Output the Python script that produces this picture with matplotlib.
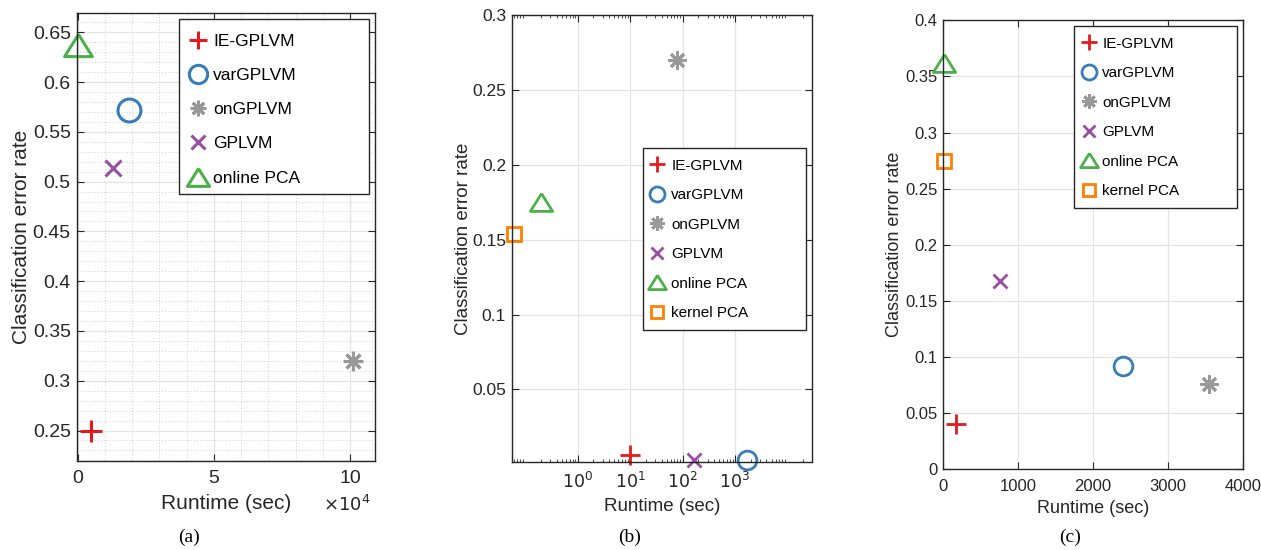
import numpy as np
import matplotlib.pyplot as plt
from matplotlib.patches import Rectangle
from matplotlib.ticker import FuncFormatter, MultipleLocator, FixedLocator, LogLocator, NullFormatter

plt.rcParams['font.family'] = ['Liberation Sans', 'DejaVu Sans']

# methods and their colours / markers
methods = ["IE-GPLVM", "varGPLVM", "onGPLVM", "GPLVM", "online PCA", "kernel PCA"]
colors = ["#e41a1c", "#377eb8", "#999999", "#984ea3", "#4daf4a", "#ff7f00"]
tri = [(0, 0.8), (-1, -0.8), (1, -0.8), (0, 0.8)]
markers = ["+", "o", (8, 2, 0), "x", tri, "s"]

# (a) runtime in seconds, error rate
rt_a = [4700, 18900, 101200, 13000, 0]
err_a = [0.250, 0.572, 0.320, 0.514, 0.637]

# (b)
rt_b = [10, 1725, 77, 168, 0.197, 0.061]
err_b = [0.0062, 0.0029, 0.2705, 0.0029, 0.1754, 0.154]

# (c)
rt_c = [170, 2400, 3555, 757, 5, 5]
err_c = [0.040, 0.092, 0.0757, 0.1673, 0.362, 0.275]

W, H = 1261, 550
fig = plt.figure(figsize=(W / 100, H / 100), dpi=100)
dark = "#262626"
gridc = "#e3e3e3"


def ax_px(l, r, t, b):
    return fig.add_axes([l / W, 1 - b / H, (r - l) / W, (b - t) / H])


def style(ax, fs, xpad, ypad):
    for s in ax.spines.values():
        s.set_color(dark)
        s.set_linewidth(1.0)
    ax.tick_params(which="both", direction="in", top=True, right=True,
                   colors=dark, labelsize=fs)
    ax.tick_params(axis="x", pad=xpad)
    ax.tick_params(axis="y", pad=ypad)
    ax.tick_params(which="major", length=5)
    ax.tick_params(which="minor", length=2.5)
    ax.set_axisbelow(True)


def legend_box(ax, box, hx, y0, fs, spacing, tpad):
    # box = left, top, right, bottom in pixels; MATLAB-like wide frame
    l, t, r, b = box
    ax.add_patch(Rectangle((l / W, 1 - b / H), (r - l) / W, (b - t) / H,
                           transform=fig.transFigure, fill=True, fc="white",
                           ec=dark, lw=1.0, zorder=4, clip_on=False))
    leg = ax.legend(loc="upper left", bbox_to_anchor=(hx / W, 1 - y0 / H),
                    bbox_transform=fig.transFigure, fontsize=fs, markerscale=0.8,
                    labelspacing=spacing, handlelength=1.4, handletextpad=tpad,
                    borderpad=0, borderaxespad=0, frameon=False)
    leg.set_zorder(6)
    for txt in leg.get_texts():
        txt.set_color("black")


gfmt = FuncFormatter(lambda v, p: "%g" % round(v, 4))

# sizes: plus, circle, asterisk, x, triangle, square
ms_a = [16, 16.5, 14, 12, 20, 11]
ms_bc = [14, 13.5, 13, 10.5, 16, 10.6]

# ---------- (a)
ax = ax_px(77, 375, 13.3, 461.4)
style(ax, 14, 6.5, 4.5)
for i in range(len(rt_a)):
    ax.plot(rt_a[i], err_a[i], linestyle="none", marker=markers[i], ms=ms_a[i],
            mew=2.2, mfc="none", mec=colors[i], label=methods[i], clip_on=False)
ax.set_xlim(-300, 109200)
ax.set_ylim(0.219, 0.669)
ax.xaxis.set_major_locator(FixedLocator([0, 50000, 100000]))
ax.xaxis.set_major_formatter(FuncFormatter(lambda v, p: "%g" % (v / 1e4)))
ax.xaxis.set_minor_locator(MultipleLocator(10000))
ax.yaxis.set_major_locator(MultipleLocator(0.05))
ax.yaxis.set_minor_locator(MultipleLocator(0.01))
ax.yaxis.set_major_formatter(gfmt)
ax.grid(True, which="major", color=gridc, lw=0.9)
ax.grid(True, which="minor", color="#d0d0d0", lw=0.7, linestyle=(0, (1, 2)))
ax.tick_params(which="minor", length=0)
ax.set_xlabel("Runtime (sec)", fontsize=15, color=dark, labelpad=5)
ax.set_ylabel("Classification error rate", fontsize=15, color=dark, labelpad=1.5)
fig.text(347 / W, 1 - 505 / H, r"$\times10^{4}$", fontsize=13, color=dark,
         ha="center", va="center")
legend_box(ax, (179.3, 19.3, 369.3, 194), 185.8, 33.5, 12.5, 1.1, 0.16)

# ---------- (b)
ax = ax_px(512, 811.7, 15.4, 462.3)
style(ax, 12.5, 6.5, 4.3)
for i in range(len(rt_b)):
    ax.plot(rt_b[i], err_b[i], linestyle="none", marker=markers[i], ms=ms_bc[i],
            mew=2.0, mfc="none", mec=colors[i], label=methods[i], clip_on=False)
ax.set_xscale("log")
ax.set_xlim(0.0557, 29200)
ax.set_ylim(0.0013, 0.3)
ax.xaxis.set_major_locator(FixedLocator([1, 10, 100, 1000]))
ax.xaxis.set_major_formatter(FuncFormatter(lambda v, p: r"$10^{%d}$" % round(np.log10(v))))
ax.xaxis.set_minor_locator(LogLocator(base=10, subs=np.arange(2, 10), numticks=20))
ax.xaxis.set_minor_formatter(NullFormatter())
ax.yaxis.set_major_locator(FixedLocator([0.05, 0.1, 0.15, 0.2, 0.25, 0.3]))
ax.yaxis.set_major_formatter(gfmt)
ax.grid(True, which="major", color=gridc, lw=0.9)
ax.set_xlabel("Runtime (sec)", fontsize=13.5, color=dark, labelpad=5)
ax.set_ylabel("Classification error rate", fontsize=13.5, color=dark, labelpad=0)
legend_box(ax, (642.7, 148, 806, 330), 646.5, 158.5, 11, 1.02, 0.22)

# ---------- (c)
ax = ax_px(943.3, 1242.7, 20.4, 469)
style(ax, 12, 7.5, 4.3)
for i in range(len(rt_c)):
    ax.plot(rt_c[i], err_c[i], linestyle="none", marker=markers[i], ms=ms_bc[i],
            mew=2.0, mfc="none", mec=colors[i], label=methods[i], clip_on=False)
ax.set_xlim(0, 4000)
ax.set_ylim(0, 0.4)
ax.xaxis.set_major_locator(MultipleLocator(1000))
ax.yaxis.set_major_locator(MultipleLocator(0.05))
ax.yaxis.set_major_formatter(gfmt)
ax.grid(True, which="major", color=gridc, lw=0.9)
ax.set_xlabel("Runtime (sec)", fontsize=13, color=dark, labelpad=4)
ax.set_ylabel("Classification error rate", fontsize=13, color=dark, labelpad=1.5)
legend_box(ax, (1074, 25.7, 1237.3, 207.7), 1078.1, 36.5, 11, 1.02, 0.19)

# captions
for x, s in [(189, "(a)"), (630, "(b)"), (1070, "(c)")]:
    fig.text(x / W, 1 - 537 / H, s, fontsize=14, family="Liberation Serif",
             ha="center", va="center")

fig.savefig("out.png", dpi=100)
